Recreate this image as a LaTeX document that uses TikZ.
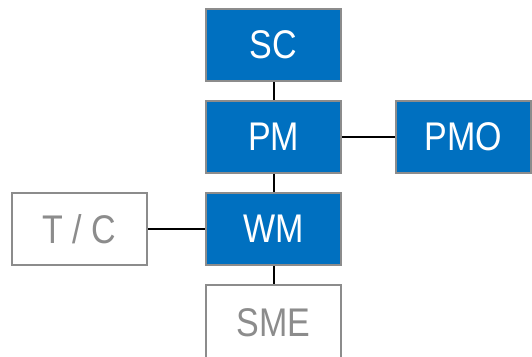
\documentclass[tikz,border=0pt]{standalone}
\usepackage{fontspec}
\setmainfont[FakeStretch=0.85]{Liberation Sans}
\definecolor{boxblue}{HTML}{0070C0}
\definecolor{boxgray}{HTML}{8C8C8C}
\begin{document}
\begin{tikzpicture}[x=1pt,y=1pt,
  base/.style={draw=boxgray, line width=2pt, minimum width=135pt, minimum height=72pt, inner sep=0pt, font=\fontsize{40}{44}\selectfont},
  bluebox/.style={base, fill=boxblue, text=white},
  whitebox/.style={base, fill=white, text=boxgray},
  link/.style={draw=black, line width=2pt}]
\useasboundingbox (0,0) rectangle (532,356);
\node[bluebox] (sc) at (273.5,311) {SC};
\node[bluebox] (pm) at (273.5,219) {PM};
\node[bluebox] (pmo) at (463.5,219) {PMO};
\node[bluebox] (wm) at (273.5,127) {WM};
\node[whitebox] (tc) at (79.5,127) {T / C};
\node[whitebox, minimum height=78pt] (sme) at (273.5,32) {\raisebox{3.5pt}{SME}};
\draw[link] (sc) -- (pm);
\draw[link] (pm) -- (pmo);
\draw[link] (pm) -- (wm);
\draw[link] (tc) -- (wm);
\draw[link] (wm) -- (sme);
\end{tikzpicture}
\end{document}
